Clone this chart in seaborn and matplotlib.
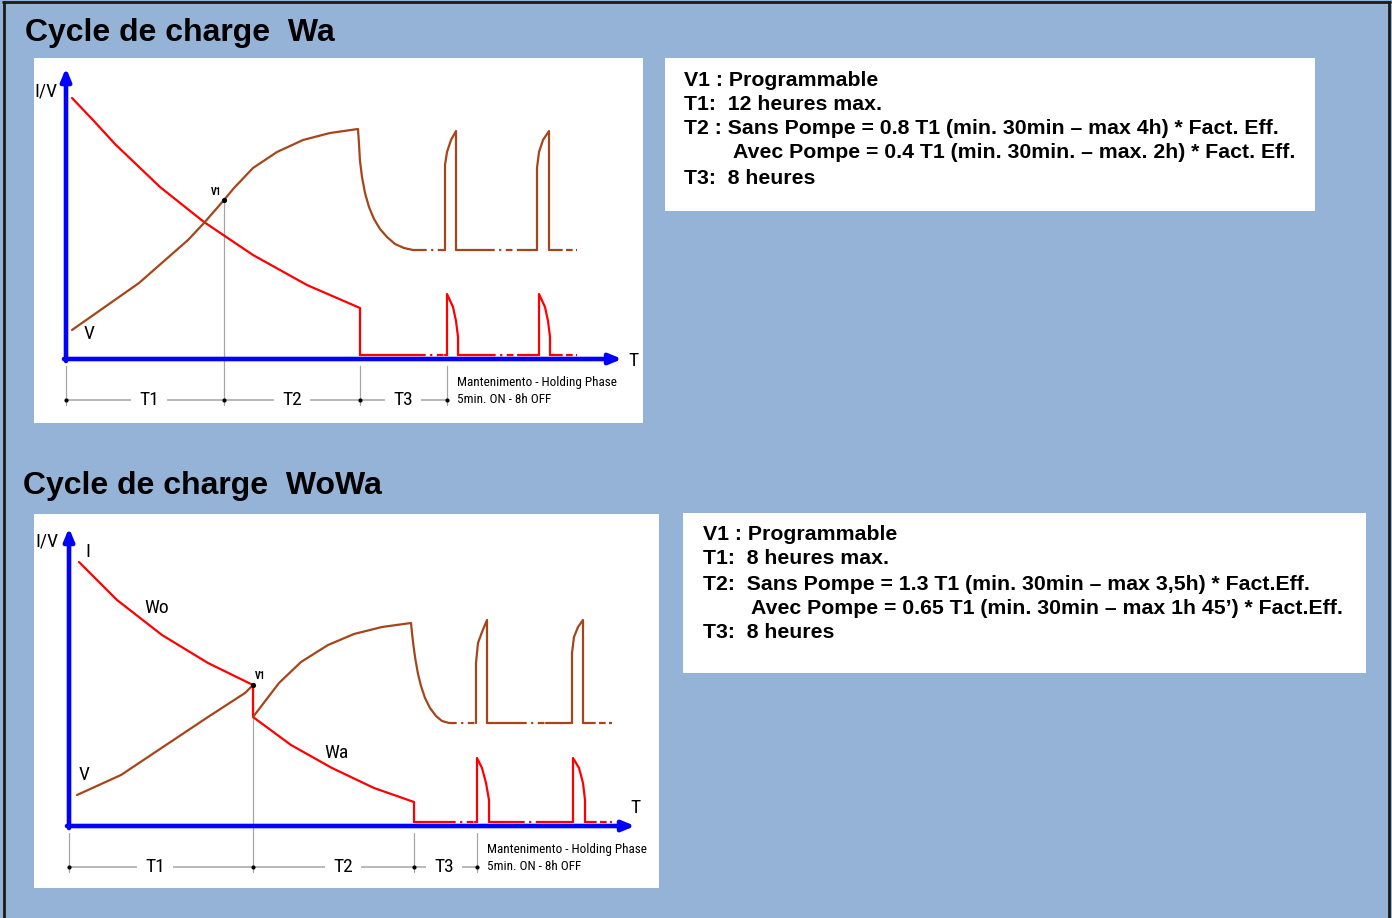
import seaborn as sns
import matplotlib.pyplot as plt
from matplotlib.lines import Line2D
from matplotlib.patches import Rectangle

sns.set_style('white')
plt.rcParams['font.family'] = ['Liberation Sans', 'DejaVu Sans']
plt.rcParams['text.color'] = 'black'
NARROW = ['Liberation Sans Narrow', 'Roboto Condensed', 'Open Sans Condensed', 'DejaVu Sans']

BG = '#95b3d7'
RED = '#ff0000'
BROWN = '#a5461a'
BLUE = '#0000ff'
GREY = '#a6a6a6'
DASHDOT = (0, (3, 2, 1, 2))
DASHED = (0, (3, 1.5))

# ---------------- Cycle Wa (time / level in drawing units) ----------------
wa_i_t = [6, 27, 49, 94, 138, 187, 241, 294, 294]
wa_i_v = [261, 239, 215, 172, 137, 104, 74, 51, 4]
wa_i_p1_t = [381, 381, 387, 390, 392, 392]
wa_i_p1_v = [4, 65, 52, 38, 22, 4]
wa_i_p2_t = [473, 473, 479, 482, 484, 484]
wa_i_p2_v = [4, 65, 52, 38, 22, 4]
wa_i_base = 4
wa_i_solid = [(294, 353), (379, 381), (392, 423), (452, 473), (484, 490)]
wa_i_dash = [(353, 379), (423, 452)]
wa_i_end = [(490, 511)]

wa_v_t = [6, 73, 122, 138, 158, 168, 187, 211, 237, 264, 292,
          293, 294, 296, 299, 303, 308, 314, 321, 329, 338, 347]
wa_v_v = [29, 76, 119, 136, 159, 171, 191, 207, 219, 226, 230,
          215, 198, 182, 166, 152, 140, 130, 122, 115, 111, 109]
wa_v_p1_t = [379, 379, 381, 385, 390, 390]
wa_v_p1_v = [109, 194, 207, 219, 228, 109]
wa_v_p2_t = [471, 471, 473, 477, 483, 483]
wa_v_p2_v = [109, 191, 207, 219, 228, 109]
wa_v_base = 109
wa_v_solid = [(347, 354), (376, 379), (390, 422), (452, 471), (483, 490)]
wa_v_dash = [(354, 376), (422, 452)]
wa_v_end = [(490, 511)]

wa_v1 = (158, 159)
wa_marks = [0, 158, 294, 381]
wa_phase_pos = [83, 226, 337]

# ---------------- Cycle WoWa ----------------
wowa_i_t = [10, 48, 93, 139, 184, 184, 222, 263, 305, 345, 345]
wowa_i_v = [264, 226, 191, 163, 141, 109, 81, 58, 38, 24, 4]
wowa_i_p1_t = [408, 408, 413, 417, 420, 420]
wowa_i_p1_v = [4, 68, 58, 43, 26, 4]
wowa_i_p2_t = [504, 504, 510, 514, 516, 516]
wowa_i_p2_v = [4, 68, 58, 43, 26, 4]
wowa_i_base = 4
wowa_i_solid = [(345, 380), (406, 408), (420, 449), (473, 504), (516, 521)]
wowa_i_dash = [(380, 406), (449, 473)]
wowa_i_end = [(521, 543)]

wowa_v1_t = [8, 52, 97, 139, 176, 184]
wowa_v1_v = [31, 51, 81, 109, 133, 141]
wowa_v2_t = [184, 210, 232, 259, 285, 313, 342,
             343, 344.5, 346.5, 349, 352, 356, 361, 367, 373, 380]
wowa_v2_v = [109, 143, 164, 181, 192, 199, 203,
             193, 180, 166, 152, 140, 128, 118, 110, 105, 103]
wowa_v_p1_t = [407, 407, 409, 413, 418, 418]
wowa_v_p1_v = [103, 163, 183, 194, 206, 103]
wowa_v_p2_t = [503, 503, 505, 509, 514, 514]
wowa_v_p2_v = [103, 173, 189, 199, 206, 103]
wowa_v_base = 103
wowa_v_solid = [(380, 381), (418, 451), (477, 503), (514, 520)]
wowa_v_dash = [(381, 407), (451, 477)]
wowa_v_end = [(520, 543)]

wowa_v1 = (184, 141)
wowa_marks = [0, 184, 345, 408]
wowa_phase_pos = [86, 274, 375]

phase_labels = ['T1', 'T2', 'T3']

text_wa = ['V1 : Programmable',
           'T1:  12 heures max.',
           'T2 : Sans Pompe = 0.8 T1 (min. 30min \u2013 max 4h) * Fact. Eff.',
           'Avec Pompe = 0.4 T1 (min. 30min. \u2013 max. 2h) * Fact. Eff.',
           'T3:  8 heures']
text_wowa = ['V1 : Programmable',
             'T1:  8 heures max.',
             'T2:  Sans Pompe = 1.3 T1 (min. 30min \u2013 max 3,5h) * Fact.Eff.',
             'Avec Pompe = 0.65 T1 (min. 30min \u2013 max 1h 45\u2019) * Fact.Eff.',
             'T3:  8 heures']

W, H = 1392, 918
fig = plt.figure(figsize=(W / 100, H / 100), dpi=100, facecolor=BG)


def fx(x):
    return x / W


def fy(y):
    return 1 - y / H


def line(ax, t, v, color, style='-', lw=1.6, z=3):
    sns.lineplot(x=t, y=v, sort=False, estimator=None, color=color,
                 linewidth=lw, linestyle=style, ax=ax, zorder=z)


def flat(ax, spans, level, color, style):
    for a, b in spans:
        line(ax, [a, b], [level, level], color, style)


def label(ax, x, y, s, size=14, ha='center', weight='normal'):
    ax.text(x, y, s, ha=ha, va='center', fontsize=size, family=NARROW,
            fontstretch='condensed', weight=weight)


def panel(box, xlim, ylim):
    ax = fig.add_axes([fx(box[0]), fy(box[3]), (box[2] - box[0]) / W, (box[3] - box[1]) / H])
    ax.set_facecolor('white')
    for s in ax.spines.values():
        s.set_visible(False)
    ax.set_xticks([])
    ax.set_yticks([])
    ax.set_xlim(*xlim)
    ax.set_ylim(*ylim)
    return ax


def axes_arrows(ax, xtip, ytip):
    props = dict(arrowstyle='-|>,head_length=0.6,head_width=0.25', color=BLUE,
                 lw=3.3, shrinkA=0, shrinkB=0, mutation_scale=12)
    ax.annotate('', xy=(xtip, 0), xytext=(-2, 0), arrowprops=props, zorder=2)
    ax.annotate('', xy=(0, ytip), xytext=(0, -2), arrowprops=props, zorder=2)


def timeline(ax, marks, v1, pos, level, hold_y):
    # thin grey guides
    line(ax, [v1[0], v1[0]], [v1[1], level - 5], GREY, lw=0.9, z=1)
    for m in [marks[0], marks[2], marks[3]]:
        line(ax, [m, m], [-7, level - 5], GREY, lw=0.9, z=1)
    line(ax, [marks[0], marks[-1]], [level, level], GREY, lw=1.1, z=1)
    sns.scatterplot(x=marks, y=[level] * len(marks), color='black', s=9,
                    linewidth=0, ax=ax, zorder=4)
    sns.scatterplot(x=[v1[0]], y=[v1[1]], color='black', s=14,
                    linewidth=0, ax=ax, zorder=5)
    for p, lab in zip(pos, phase_labels):
        ax.text(p, level, lab, ha='center', va='center', fontsize=14,
                family=NARROW, fontstretch='condensed', zorder=5,
                bbox=dict(boxstyle='square,pad=0.4', fc='white', ec='none'))
    label(ax, marks[-1] + 10, hold_y, 'Mantenimento - Holding Phase', size=9.5, ha='left')
    label(ax, marks[-1] + 10, level, '5min. ON - 8h OFF', size=9.5, ha='left')


# ---------------- panel 1 : Wa ----------------
ax1 = panel((34, 58, 643, 423), (-32, 577), (-64, 301))
axes_arrows(ax1, 556, 291)
line(ax1, wa_i_t, wa_i_v, RED)
line(ax1, wa_i_p1_t, wa_i_p1_v, RED)
line(ax1, wa_i_p2_t, wa_i_p2_v, RED)
flat(ax1, wa_i_solid, wa_i_base, RED, '-')
flat(ax1, wa_i_dash, wa_i_base, RED, DASHDOT)
flat(ax1, wa_i_end, wa_i_base, RED, DASHED)
line(ax1, wa_v_t, wa_v_v, BROWN)
line(ax1, wa_v_p1_t, wa_v_p1_v, BROWN)
line(ax1, wa_v_p2_t, wa_v_p2_v, BROWN)
flat(ax1, wa_v_solid, wa_v_base, BROWN, '-')
flat(ax1, wa_v_dash, wa_v_base, BROWN, DASHDOT)
flat(ax1, wa_v_end, wa_v_base, BROWN, DASHED)
timeline(ax1, wa_marks, wa_v1, wa_phase_pos, -41, -24)
label(ax1, -20, 267, 'I/V')
label(ax1, 567, -2, 'T')
label(ax1, 23, 25, 'V')
label(ax1, 150, 167, 'V1', size=7, weight='bold')

# ---------------- panel 2 : WoWa ----------------
ax2 = panel((34, 514, 659, 888), (-35, 590), (-62, 312))
axes_arrows(ax2, 566, 298)
line(ax2, wowa_i_t, wowa_i_v, RED)
line(ax2, wowa_i_p1_t, wowa_i_p1_v, RED)
line(ax2, wowa_i_p2_t, wowa_i_p2_v, RED)
flat(ax2, wowa_i_solid, wowa_i_base, RED, '-')
flat(ax2, wowa_i_dash, wowa_i_base, RED, DASHDOT)
flat(ax2, wowa_i_end, wowa_i_base, RED, DASHED)
line(ax2, wowa_v1_t, wowa_v1_v, BROWN)
line(ax2, wowa_v2_t, wowa_v2_v, BROWN)
line(ax2, wowa_v_p1_t, wowa_v_p1_v, BROWN)
line(ax2, wowa_v_p2_t, wowa_v_p2_v, BROWN)
flat(ax2, wowa_v_solid, wowa_v_base, BROWN, '-')
flat(ax2, wowa_v_dash, wowa_v_base, BROWN, DASHDOT)
flat(ax2, wowa_v_end, wowa_v_base, BROWN, DASHED)
timeline(ax2, wowa_marks, wowa_v1, wowa_phase_pos, -41, -23)
label(ax2, -22, 285, 'I/V')
label(ax2, 19, 274, 'I')
label(ax2, 88, 218, 'Wo')
label(ax2, 267, 73, 'Wa')
label(ax2, 15, 51, 'V')
label(ax2, 566, 18, 'T')
label(ax2, 191, 150, 'V1', size=7, weight='bold')

# ---------------- titles and note boxes ----------------
fig.text(fx(25), fy(33), 'Cycle de charge  Wa', fontsize=23, weight='bold', va='center')
fig.text(fx(23), fy(486), 'Cycle de charge  WoWa', fontsize=23, weight='bold', va='center')

fig.add_artist(Rectangle((fx(665), fy(211)), 650 / W, 153 / H, transform=fig.transFigure,
                         fc='white', ec='none'))
fig.add_artist(Rectangle((fx(683), fy(673)), 683 / W, 160 / H, transform=fig.transFigure,
                         fc='white', ec='none'))
for s, x, y in zip(text_wa, [684, 684, 684, 733, 684], [80, 104, 129, 153, 179]):
    fig.text(fx(x), fy(y), s, fontsize=15.3, weight='bold', va='center')
for s, x, y in zip(text_wowa, [703, 703, 703, 751, 703], [535, 559, 584, 608, 633]):
    fig.text(fx(x), fy(y), s, fontsize=15.3, weight='bold', va='center')

# frame
for xs, ys in [([fx(3), fx(1390)], [fy(2), fy(2)]),
               ([fx(4), fx(4)], [0, fy(2)]),
               ([fx(1389), fx(1389)], [0, fy(2)])]:
    fig.add_artist(Line2D(xs, ys, color='#1a1a1a', lw=2, transform=fig.transFigure))

fig.savefig('out.png', dpi=100, facecolor=BG)
